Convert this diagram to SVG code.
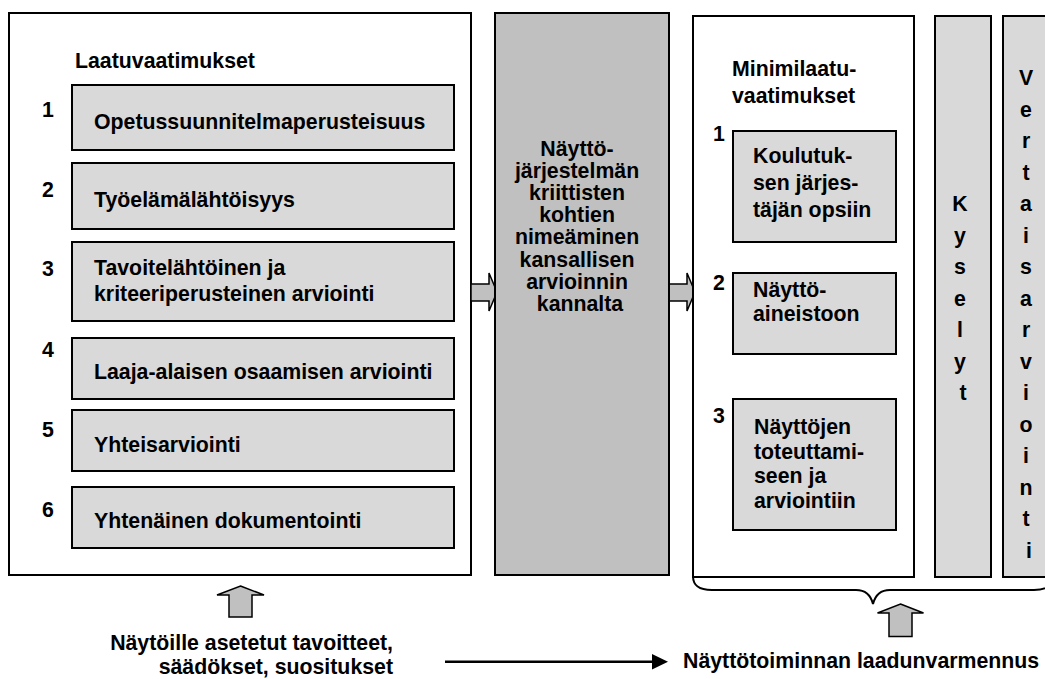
<svg xmlns="http://www.w3.org/2000/svg" width="1045" height="679" viewBox="0 0 1045 679">
  <defs>
    <style>
      text { font-family: "Liberation Sans", Arial, sans-serif; font-weight: bold; font-size: 21.3px; fill: #000; }
      .frame { fill: #fff; stroke: #000; stroke-width: 2; }
      .item { fill: #d9d9d9; stroke: #000; stroke-width: 2; }
      .core { fill: #c0c0c0; stroke: #000; stroke-width: 2; }
      .col { fill: #d9d9d9; stroke: #000; stroke-width: 2; }
      .block { fill: #c0c0c0; stroke: #000; stroke-width: 1.5; stroke-linejoin: miter; }
      .mid { text-anchor: middle; }
      .end { text-anchor: end; }
    </style>
  </defs>

  <!-- Left panel: quality requirements -->
  <g id="laatuvaatimukset">
    <rect class="frame" x="9" y="13" width="462" height="562"/>
    <text x="75" y="68">Laatuvaatimukset</text>
  </g>
  <g id="req1">
    <rect class="item" x="72" y="85" width="382" height="65"/>
    <text class="mid" x="48" y="117">1</text>
    <text x="94" y="128.5">Opetussuunnitelmaperusteisuus</text>
  </g>
  <g id="req2">
    <rect class="item" x="72" y="163" width="382" height="66"/>
    <text class="mid" x="48" y="197">2</text>
    <text x="94" y="207">Työelämälähtöisyys</text>
  </g>
  <g id="req3">
    <rect class="item" x="72" y="242" width="382" height="79"/>
    <text class="mid" x="48" y="276">3</text>
    <text x="94" y="275">Tavoitelähtöinen ja</text>
    <text x="94" y="301">kriteeriperusteinen arviointi</text>
  </g>
  <g id="req4">
    <rect class="item" x="72" y="338" width="382" height="61"/>
    <text class="mid" x="48" y="357">4</text>
    <text x="94" y="379">Laaja-alaisen osaamisen arviointi</text>
  </g>
  <g id="req5">
    <rect class="item" x="72" y="410" width="382" height="61"/>
    <text class="mid" x="48" y="437">5</text>
    <text x="94" y="452">Yhteisarviointi</text>
  </g>
  <g id="req6">
    <rect class="item" x="72" y="487" width="382" height="61"/>
    <text class="mid" x="48" y="517">6</text>
    <text x="94" y="528">Yhtenäinen dokumentointi</text>
  </g>

  <!-- Connectors: block arrows, brace and the bottom timeline arrow -->
  <g id="connectors">
    <polygon class="block" points="471,284 489,284 489,273 497,292 489,311 489,301 471,301"/>
    <polygon class="block" points="669,284 687,284 687,273 695,292 687,311 687,301 669,301"/>
    <polygon class="block" points="240.5,586 264,595 252,595 252,617 229,617 229,595 217,595"/>
    <polygon class="block" points="900.5,604 923.5,613 912,613 912,636.5 889,636.5 889,613 877.5,613"/>
    <path d="M693,576 C693,585 698,590 712,590 L856,590 C866,590 871,596 873,604 C875,596 880,590 890,590 L1034,590 C1048,590 1053,585 1053,576" fill="none" stroke="#000" stroke-width="2"/>
    <line x1="445" y1="661.7" x2="653" y2="661.7" stroke="#000" stroke-width="2.5"/>
    <polygon points="652,654 668,661.7 652,669.4" fill="#000"/>
  </g>

  <!-- Middle panel -->
  <g id="kriittiset-kohdat">
    <rect class="core" x="495" y="13" width="174" height="562"/>
    <text class="mid">
      <tspan x="580" y="155.5">Näyttö-</tspan>
      <tspan x="580" y="177.7">järjestelmän</tspan>
      <tspan x="580" y="199.9">kriittisten</tspan>
      <tspan x="580" y="222.1">kohtien</tspan>
      <tspan x="580" y="244.3">nimeäminen</tspan>
      <tspan x="580" y="266.5">kansallisen</tspan>
      <tspan x="580" y="288.7">arvioinnin</tspan>
      <tspan x="580" y="310.9">kannalta</tspan>
    </text>
  </g>

  <!-- Right panel: minimum quality requirements -->
  <g id="minimilaatuvaatimukset">
    <rect class="frame" x="693" y="16" width="221" height="561"/>
    <text x="732" y="76">Minimilaatu-</text>
    <text x="732" y="103">vaatimukset</text>
  </g>
  <g id="min1">
    <rect class="item" x="733" y="131" width="163" height="111"/>
    <text class="mid" x="719" y="141">1</text>
    <text x="753" y="163">Koulutuk-</text>
    <text x="753" y="190">sen järjes-</text>
    <text x="753" y="217">täjän opsiin</text>
  </g>
  <g id="min2">
    <rect class="item" x="733" y="273" width="163" height="81"/>
    <text class="mid" x="719" y="290">2</text>
    <text x="753" y="297">Näyttö-</text>
    <text x="753" y="321">aineistoon</text>
  </g>
  <g id="min3">
    <rect class="item" x="733" y="399" width="163" height="131"/>
    <text class="mid" x="719" y="423">3</text>
    <text x="754" y="434">Näyttöjen</text>
    <text x="754" y="458.5">toteuttami-</text>
    <text x="754" y="483">seen ja</text>
    <text x="754" y="507.5">arviointiin</text>
  </g>

  <!-- Vertical columns -->
  <g id="kyselyt">
    <rect class="col" x="935" y="16" width="56" height="561"/>
    <text class="mid">
      <tspan x="963" y="211">K</tspan>
      <tspan x="963" y="242.5">y</tspan>
      <tspan x="963" y="274">s</tspan>
      <tspan x="963" y="305.5">e</tspan>
      <tspan x="963" y="337">l</tspan>
      <tspan x="963" y="368.5">y</tspan>
      <tspan x="963" y="400">t</tspan>
    </text>
  </g>
  <g id="vertaisarviointi">
    <rect class="col" x="1003" y="16" width="52" height="561"/>
    <text class="mid">
      <tspan x="1029" y="85">V</tspan>
      <tspan x="1029" y="116.5">e</tspan>
      <tspan x="1029" y="148">r</tspan>
      <tspan x="1029" y="179.5">t</tspan>
      <tspan x="1029" y="211">a</tspan>
      <tspan x="1029" y="242.5">i</tspan>
      <tspan x="1029" y="274">s</tspan>
      <tspan x="1029" y="305.5">a</tspan>
      <tspan x="1029" y="337">r</tspan>
      <tspan x="1029" y="368.5">v</tspan>
      <tspan x="1029" y="400">i</tspan>
      <tspan x="1029" y="431.5">o</tspan>
      <tspan x="1029" y="463">i</tspan>
      <tspan x="1029" y="494.5">n</tspan>
      <tspan x="1029" y="526">t</tspan>
      <tspan x="1029" y="557.5">i</tspan>
    </text>
  </g>

  <!-- Bottom captions -->
  <g id="tavoitteet">
    <text class="end" x="393" y="650">Näytöille asetetut tavoitteet,</text>
    <text class="end" x="393" y="674">säädökset, suositukset</text>
  </g>
  <g id="laadunvarmennus">
    <text x="683" y="668">Näyttötoiminnan laadunvarmennus</text>
  </g>
</svg>
